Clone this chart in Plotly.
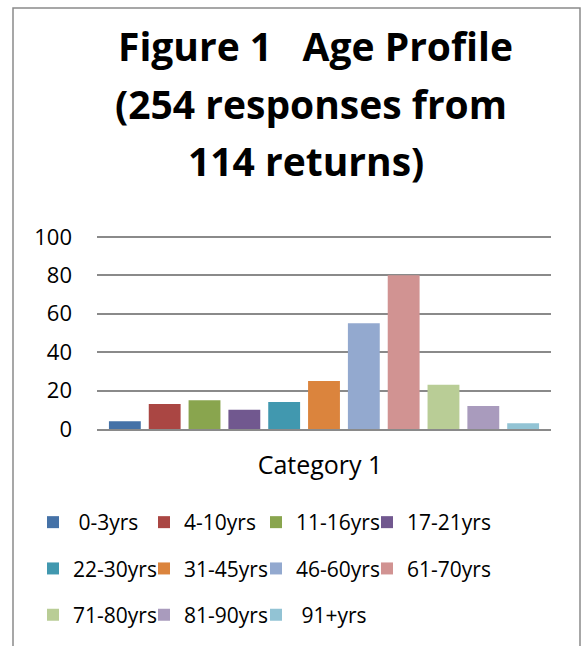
import plotly.graph_objects as go

categories = ["Category 1"]
series_names = ["\u00a00-3yrs", "4-10yrs", "11-16yrs", "17-21yrs", "22-30yrs", "31-45yrs",
                "46-60yrs", "61-70yrs", "71-80yrs", "81-90yrs", "\u00a091+yrs"]
series_values = [4, 13, 15, 10, 14, 25, 55, 80, 23, 12, 3]
colors = ["#4572A7", "#AA4643", "#89A54E", "#71588F", "#4198AF", "#DB843D",
          "#93A9CF", "#D19392", "#B9CD96", "#A99BBD", "#92C3D4"]
y_ticks = [0, 20, 40, 60, 80, 100]
title_lines = ["Figure 1   Age Profile", "(254 responses from", "114 returns)"]

FONT = "Open Sans"
W, H = 581, 646
L, R, T, B = 97, 30, 235, 217
PW = W - L - R
PH = H - T - B

def px_x(px):
    return (px - L) / PW

def px_y(py):
    return (H - B - py) / PH

N_COLS = 4
legend_ids = [("legend" if i % N_COLS == 0 else "legend%d" % (i % N_COLS + 1))
              for i in range(len(series_names))]

fig = go.Figure()
for i, (name, val, col, lg) in enumerate(zip(series_names, series_values, colors, legend_ids)):
    fig.add_trace(go.Bar(x=categories, y=[val], name=name, marker_color=col,
                         marker_line_width=0, legend=lg, legendgroup="g%d" % i))

leg_common = dict(orientation="v", xanchor="left", yanchor="top",
                  font=dict(family=FONT, size=21, color="#000000"),
                  bgcolor="rgba(0,0,0,0)", tracegroupgap=16, traceorder="grouped",
                  y=px_y(502))

col_text_x = [73, 184, 296, 407]
leg_layout = {}
for c in range(N_COLS):
    key = "legend" if c == 0 else "legend%d" % (c + 1)
    leg_layout[key] = dict(x=px_x(col_text_x[c] - 40), **leg_common)

fig.update_layout(
    width=W, height=H,
    margin=dict(l=L, r=R, t=T, b=B, autoexpand=False),
    paper_bgcolor="white", plot_bgcolor="white",
    barmode="group", bargap=0.035, bargroupgap=0.2,
    showlegend=True,
    font=dict(family=FONT, color="#000000"),
    **leg_layout,
)

fig.update_yaxes(range=[0, 101], tickvals=y_ticks, showgrid=True,
                 gridcolor="#8a8a8a", gridwidth=1.5, zeroline=False,
                 showline=False, ticks="", ticklabelstandoff=24,
                 tickfont=dict(family=FONT, size=22, color="#000000"), fixedrange=True)
fig.update_xaxes(showline=True, linecolor="#8a8a8a", linewidth=1.5, ticks="",
                 tickfont=dict(family=FONT, size=25, color="#000000"),
                 ticklabelstandoff=13, ticklabelshift=-4)

title_y = [46, 103, 160]
title_x = [315, 311, 306]
for txt, xx, yy in zip(title_lines, title_x, title_y):
    fig.add_annotation(text="<b>" + txt + "</b>", xref="paper", yref="paper",
                       x=px_x(xx), y=px_y(yy), xanchor="center", yanchor="middle",
                       showarrow=False, font=dict(family=FONT, size=39, color="#000000"))

fig.add_shape(type="rect", xref="paper", yref="paper",
              x0=px_x(13), x1=px_x(580), y0=px_y(660), y1=px_y(8),
              line=dict(color="#8a8a8a", width=1.5), fillcolor="rgba(0,0,0,0)")

fig.write_html("out.html", config={"displayModeBar": False},
               post_script="document.body.style.margin='0';document.body.style.overflow='hidden';")
